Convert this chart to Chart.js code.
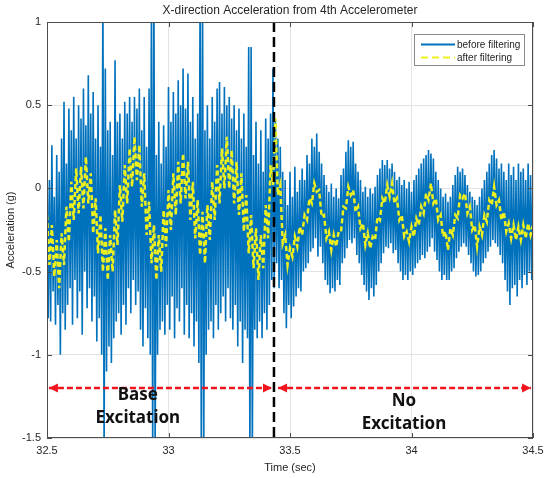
<!DOCTYPE html>
<html>
<head>
<meta charset="utf-8">
<script src="https://cdn.jsdelivr.net/npm/chart.js@4.4.1/dist/chart.umd.min.js"></script>
<style>
  html, body { margin: 0; padding: 0; background: #fff; }
</style>
</head>
<body>
<canvas id="chart" width="544" height="478"></canvas>
<script>
"use strict";

// sampling of the two records
const START_T = 32.5;
const RAW_STEP = 0.005;
const FILT_STEP = 0.01;

// acceleration before filtering (g), one value every 5 ms from 32.5 s
const rawAccel = [
    0.22, -0.78, 0.05, -0.80, 0.26, -0.62, -0.05, -0.82, 0.20, -0.70,
    0.10, -1.00, 0.30, -0.75, 0.52, -0.85, 0.15, -0.70, 0.48, -0.60,
    0.35, -0.82, 0.55, -0.55, 0.30, -0.78, 0.50, -0.62, 0.42, -0.88,
    0.60, -0.50, 0.38, -0.72, 0.68, -0.60, 0.45, -0.80, 0.58, -0.65,
    0.30, -0.92, 0.50, -0.78, 0.25, -1.00, 1.20, -1.60, 0.72, -1.10,
    0.35, -0.95, 0.40, -1.05, 0.20, -0.90, 0.77, -0.80, 0.40, -0.75,
    0.45, -0.88, 0.30, -0.70, 0.52, -0.82, 0.45, -0.60, 0.55, -0.75,
    0.40, -0.55, 0.55, -0.70, 0.48, -0.62, 0.60, -0.85, 0.35, -0.95,
    0.55, -0.72, 0.25, -0.90, 0.60, -1.00, 1.20, -1.60, 1.20, -1.60,
    0.20, -1.00, 0.40, -0.85, 0.15, -0.80, 0.38, -0.88, 0.25, -0.70,
    0.61, -0.85, 0.40, -0.65, 0.58, -0.90, 0.45, -0.72, 0.65, -0.80,
    0.50, -0.60, 0.72, -0.88, 0.48, -0.70, 0.69, -0.90, 0.40, -0.75,
    0.55, -0.95, 0.30, -0.80, 0.45, -1.05, 1.20, -1.60, 1.20, -1.60,
    0.35, -1.00, 0.50, -0.85, 0.30, -0.80, 0.55, -0.90, 0.40, -0.70,
    0.60, -0.85, 0.64, -0.75, 0.45, -0.65, 0.61, -0.80, 0.50, -0.60,
    0.55, -0.78, 0.42, -0.85, 0.50, -0.70, 0.35, -0.95, 0.48, -0.80,
    0.30, -1.05, 0.45, -0.85, 0.25, -0.90, 0.85, -1.60, 0.85, -1.60,
    0.20, -0.85, 0.40, -0.90, 0.15, -0.80, 0.35, -0.90, 0.10, -0.75,
    0.42, -0.85, 0.30, -0.70, 0.45, -0.55, 0.72, -0.60, 0.41, -0.45,
    0.30, -0.60, 0.25, -0.55, 0.10, -0.75, 0.05, -0.84, -0.10, -0.70,
    0.10, -0.78, -0.05, -0.71, 0.13, -0.65, -0.02, -0.60, 0.05, -0.62,
    0.12, -0.50, 0.05, -0.48, 0.20, -0.45, 0.15, -0.38, 0.30, -0.36,
    0.25, -0.30, 0.33, -0.41, 0.22, -0.35, 0.15, -0.45, 0.08, -0.55,
    0.02, -0.58, -0.02, -0.63, 0.03, -0.60, -0.05, -0.62, 0.00, -0.55,
    -0.06, -0.58, 0.08, -0.45, 0.12, -0.42, 0.22, -0.36, 0.29, -0.31,
    0.25, -0.33, 0.28, -0.30, 0.15, -0.40, 0.10, -0.45, 0.05, -0.52,
    -0.02, -0.58, 0.01, -0.62, -0.05, -0.67, 0.00, -0.60, -0.03, -0.65,
    0.01, -0.58, 0.08, -0.50, 0.12, -0.45, 0.17, -0.39, 0.14, -0.35,
    0.17, -0.36, 0.12, -0.33, 0.15, -0.39, 0.10, -0.37, 0.05, -0.45,
    0.07, -0.50, 0.02, -0.55, 0.05, -0.52, 0.00, -0.55, 0.04, -0.50,
    -0.02, -0.52, 0.05, -0.48, 0.08, -0.45, 0.12, -0.43, 0.15, -0.40,
    0.18, -0.42, 0.20, -0.38, 0.23, -0.35, 0.21, -0.30, 0.18, -0.38,
    0.10, -0.43, 0.05, -0.50, 0.00, -0.55, -0.05, -0.52, -0.03, -0.55,
    -0.08, -0.55, -0.05, -0.50, 0.02, -0.48, 0.08, -0.42, 0.13, -0.38,
    0.10, -0.35, 0.12, -0.33, 0.08, -0.35, 0.02, -0.40, -0.02, -0.45,
    -0.05, -0.50, -0.07, -0.53, -0.10, -0.52, -0.05, -0.50, 0.00, -0.45,
    0.05, -0.42, 0.10, -0.38, 0.15, -0.35, 0.20, -0.31, 0.23, -0.33,
    0.18, -0.35, 0.12, -0.40, 0.15, -0.45, 0.10, -0.55, 0.05, -0.62,
    0.15, -0.70, 0.08, -0.60, 0.13, -0.58, 0.05, -0.65, 0.15, -0.55,
    0.10, -0.60, 0.12, -0.52, 0.05, -0.58, 0.15, -0.50, 0.08, -0.55,
    0.10
];

// acceleration after filtering (g), one value every 10 ms from 32.5 s
const filtAccel = [
    -0.16, -0.46, -0.22, -0.53, -0.31, -0.60, -0.27, -0.46, -0.11, -0.32,
    0.04, -0.19, 0.12, -0.15, 0.13, -0.12, 0.19, -0.09, 0.09, -0.27,
    -0.06, -0.39, -0.16, -0.50, -0.24, -0.55, -0.28, -0.50, -0.13, -0.34,
    0.02, -0.20, 0.14, -0.09, 0.24, 0.01, 0.31, 0.05, 0.26, -0.11,
    0.09, -0.28, -0.08, -0.45, -0.22, -0.55, -0.28, -0.50, -0.13, -0.35,
    -0.01, -0.25, 0.09, -0.16, 0.16, -0.09, 0.21, -0.06, 0.16, -0.19,
    0.04, -0.30, -0.07, -0.40, -0.14, -0.45, -0.10, -0.31, 0.04, -0.19,
    0.14, -0.09, 0.24, 0.00, 0.31, 0.00, 0.23, -0.09, 0.16, -0.16,
    0.09, -0.26, -0.04, -0.39, -0.16, -0.48, -0.24, -0.55, -0.28, -0.48,
    -0.10, -0.30, 0.14, 0.02, 0.42, -0.04, 0.02, -0.33, -0.28, -0.46,
    -0.36,
    -0.41, -0.29, -0.35, -0.23, -0.28, -0.16, -0.19, -0.06, -0.09, 0.03,
    -0.02, -0.01, -0.17, -0.16, -0.30, -0.26, -0.37, -0.28, -0.35, -0.26,
    -0.26, -0.11, -0.12, 0.01, -0.04, -0.01, -0.14, -0.11, -0.24, -0.21,
    -0.34, -0.27, -0.36, -0.29, -0.31, -0.17, -0.19, -0.06, -0.09, 0.02,
    -0.05, 0.03, -0.09, -0.06, -0.19, -0.16, -0.29, -0.26, -0.32, -0.23,
    -0.29, -0.18, -0.22, -0.11, -0.15, -0.03, -0.07, 0.03, -0.09, -0.06,
    -0.19, -0.16, -0.29, -0.26, -0.37, -0.24, -0.28, -0.16, -0.18, -0.04,
    -0.06, -0.03, -0.15, -0.11, -0.25, -0.22, -0.35, -0.23, -0.28, -0.16,
    -0.20, -0.07, -0.10, 0.01, -0.10, -0.07, -0.19, -0.14, -0.26, -0.21,
    -0.30, -0.22, -0.31, -0.23, -0.31, -0.22, -0.30, -0.21, -0.28, -0.22
];

const xTicks = [32.5, 33, 33.5, 34, 34.5];
const yTicks = [-1.5, -1, -0.5, 0, 0.5, 1];

// where the base excitation stops, and the two span arrows
const switchTime = 33.434;
const arrowLevel = -1.2;
const baseSpan = [32.508, 33.426];
const freeSpan = [33.451, 34.492];
const spanLabels = [
    { t: 32.874, lines: ["Base", "Excitation"] },
    { t: 33.969, lines: ["No", "Excitation"] }
];

const TITLE = "X-direction Acceleration from 4th Accelerometer";
const BLUE = "#0072bd";
const YELLOW = "#eef01e";
const RED = "#f0141e";
const GRID = "#e3e3e3";
const TXT = "#262626";
const FONT = "'Liberation Sans', Arial, Helvetica, sans-serif";

const rawPoints = rawAccel.map((v, i) => ({ x: START_T + i * RAW_STEP, y: v }));
const filtPoints = filtAccel.map((v, i) => ({ x: START_T + i * FILT_STEP, y: v }));

const decor = {
    id: "decor",
    beforeDraw(chart) {
        const ctx = chart.ctx;
        ctx.save();
        ctx.fillStyle = "#fff";
        ctx.fillRect(0, 0, chart.width, chart.height);
        ctx.restore();
    },
    afterDraw(chart) {
        const ctx = chart.ctx;
        const a = chart.chartArea;
        const xs = chart.scales.x, ys = chart.scales.y;
        ctx.save();

        // arrow heads
        const ay = ys.getPixelForValue(arrowLevel);
        const head = (x, dir) => {
            ctx.beginPath();
            ctx.moveTo(x, ay);
            ctx.lineTo(x - dir * 9, ay - 4.5);
            ctx.lineTo(x - dir * 9, ay + 4.5);
            ctx.closePath();
            ctx.fill();
        };
        ctx.fillStyle = RED;
        head(xs.getPixelForValue(baseSpan[0]), -1);
        head(xs.getPixelForValue(baseSpan[1]), 1);
        head(xs.getPixelForValue(freeSpan[0]), -1);
        head(xs.getPixelForValue(freeSpan[1]), 1);

        // span captions
        ctx.fillStyle = "#111";
        ctx.font = "bold 17px 'Noto Sans', 'Open Sans', sans-serif";
        ctx.textAlign = "center";
        ctx.textBaseline = "middle";
        spanLabels.forEach((s, k) => {
            const x = xs.getPixelForValue(s.t);
            const y0 = k === 0 ? 395 : 401;
            s.lines.forEach((ln, j) => ctx.fillText(ln, x, y0 + j * 23));
        });

        // axes box and inner ticks
        ctx.strokeStyle = "#4d4d4d";
        ctx.lineWidth = 1;
        ctx.strokeRect(a.left + 0.5, a.top + 0.5, a.right - a.left - 1, a.bottom - a.top - 1);
        ctx.beginPath();
        xTicks.forEach(t => {
            const x = Math.round(xs.getPixelForValue(t)) + 0.5;
            ctx.moveTo(x, a.bottom); ctx.lineTo(x, a.bottom - 5);
            ctx.moveTo(x, a.top); ctx.lineTo(x, a.top + 5);
        });
        yTicks.forEach(t => {
            const y = Math.round(ys.getPixelForValue(t)) + 0.5;
            ctx.moveTo(a.left, y); ctx.lineTo(a.left + 5, y);
            ctx.moveTo(a.right, y); ctx.lineTo(a.right - 5, y);
        });
        ctx.stroke();

        // legend
        ctx.fillStyle = "#fff";
        ctx.fillRect(414, 34, 110, 31);
        ctx.strokeStyle = "#8a8a8a";
        ctx.strokeRect(414.5, 34.5, 110, 31);
        ctx.lineWidth = 2;
        ctx.strokeStyle = BLUE;
        ctx.beginPath(); ctx.moveTo(421, 44.5); ctx.lineTo(455, 44.5); ctx.stroke();
        ctx.strokeStyle = YELLOW;
        ctx.setLineDash([7, 4]);
        ctx.beginPath(); ctx.moveTo(421, 57.5); ctx.lineTo(455, 57.5); ctx.stroke();
        ctx.setLineDash([]);
        ctx.fillStyle = TXT;
        ctx.font = "10px " + FONT;
        ctx.textAlign = "left";
        ctx.fillText(chart.data.datasets[0].label, 457, 45);
        ctx.fillText(chart.data.datasets[1].label, 457, 58);

        // title and axis titles
        const cx = (a.left + a.right) / 2;
        ctx.fillStyle = TXT;
        ctx.textAlign = "center";
        ctx.font = "12px " + FONT;
        ctx.fillText(TITLE, cx, 11);
        ctx.font = "11px " + FONT;
        ctx.fillText("Time (sec)", cx, 468);
        ctx.translate(11, (a.top + a.bottom) / 2);
        ctx.rotate(-Math.PI / 2);
        ctx.fillText("Acceleration (g)", 0, 0);
        ctx.restore();
    }
};

const chart = new Chart(document.getElementById("chart"), {
    type: "line",
    data: {
        datasets: [
            {
                label: "before filtering",
                data: rawPoints,
                borderColor: BLUE,
                borderWidth: 1.6,
                pointRadius: 0,
                tension: 0,
                clip: 0,
                order: 4
            },
            {
                label: "after filtering",
                data: filtPoints,
                borderColor: YELLOW,
                borderWidth: 2.5,
                borderDash: [5, 3],
                pointRadius: 0,
                tension: 0,
                clip: 0,
                order: 3
            },
            {
                label: "switch",
                data: [{ x: switchTime, y: 1 }, { x: switchTime, y: -1.5 }],
                borderColor: "#000",
                borderWidth: 2.5,
                borderDash: [10, 5],
                pointRadius: 0,
                clip: 0,
                order: 2
            },
            {
                label: "base span",
                data: [{ x: baseSpan[0], y: arrowLevel }, { x: baseSpan[1], y: arrowLevel }],
                borderColor: RED,
                borderWidth: 2.5,
                borderDash: [6, 3],
                pointRadius: 0,
                order: 1
            },
            {
                label: "free span",
                data: [{ x: freeSpan[0], y: arrowLevel }, { x: freeSpan[1], y: arrowLevel }],
                borderColor: RED,
                borderWidth: 2.5,
                borderDash: [6, 3],
                pointRadius: 0,
                order: 1
            }
        ]
    },
    options: {
        responsive: false,
        animation: false,
        events: [],
        layout: { padding: { top: 22, right: 11, left: 0, bottom: 0 } },
        plugins: { legend: { display: false }, tooltip: { enabled: false }, title: { display: false } },
        scales: {
            x: {
                type: "linear",
                min: 32.5, max: 34.5,
                afterBuildTicks: s => { s.ticks = xTicks.map(v => ({ value: v })); },
                afterFit: s => { s.height = 40; s.paddingLeft = 0; s.paddingRight = 0; },
                grid: { color: GRID, drawTicks: false },
                border: { display: false },
                ticks: {
                    padding: 6, color: TXT, maxRotation: 0, autoSkip: false,
                    font: { family: FONT, size: 11 },
                    callback: v => String(v)
                }
            },
            y: {
                min: -1.5, max: 1,
                afterBuildTicks: s => { s.ticks = yTicks.map(v => ({ value: v })); },
                afterFit: s => { s.width = 47; s.paddingTop = 0; s.paddingBottom = 0; },
                grid: { color: GRID, drawTicks: false },
                border: { display: false },
                ticks: {
                    padding: 6, color: TXT, autoSkip: false,
                    font: { family: FONT, size: 11 },
                    callback: v => String(v)
                }
            }
        }
    },
    plugins: [decor]
});
</script>
</body>
</html>
